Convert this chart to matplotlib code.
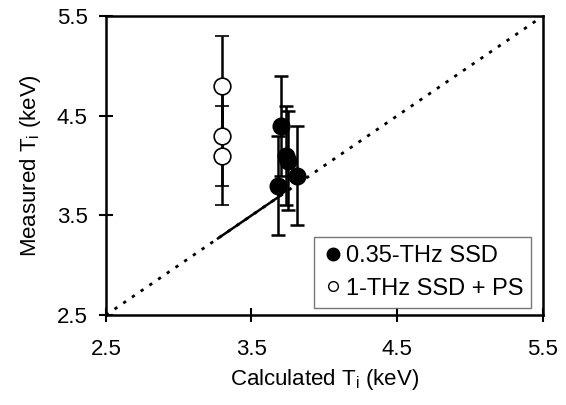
import matplotlib
matplotlib.use("Agg")
import matplotlib.pyplot as plt
from matplotlib.lines import Line2D

plt.rcParams['font.family'] = ['Liberation Sans', 'DejaVu Sans']
plt.rcParams['mathtext.fontset'] = 'custom'
plt.rcParams['mathtext.rm'] = 'Liberation Sans'

# 0.35-THz SSD (filled)
calc_ssd = [3.70, 3.74, 3.75, 3.81, 3.68]
meas_ssd = [4.40, 4.10, 4.05, 3.90, 3.80]
err_ssd = [0.5, 0.5, 0.5, 0.5, 0.5]

# 1-THz SSD + PS (open)
calc_ps = [3.30, 3.30, 3.30]
meas_ps = [4.80, 4.30, 4.10]
err_ps = [0.5, 0.5, 0.5]

# y = x reference and solid segment
diag = [2.5, 5.5]
seg = [3.27, 3.70]

ticks = [2.5, 3.5, 4.5, 5.5]

fig = plt.figure(figsize=(5.66, 4.05), dpi=100)
ax = fig.add_axes([0.187, 0.222, 0.772, 0.738])

ax.plot(diag, diag, ':', color='black', lw=2.0, dashes=(1.2, 2.6))
ax.plot(seg, seg, '-', color='black', lw=1.8)

ax.errorbar(calc_ssd, meas_ssd, yerr=err_ssd, fmt='o', color='black',
            mfc='black', mec='black', ms=12, ecolor='black', elinewidth=1.8,
            capsize=5, capthick=1.8, zorder=3)
ax.errorbar(calc_ps, meas_ps, yerr=err_ps, fmt='o', color='black',
            mfc='white', mec='black', ms=12, mew=1.2, ecolor='black',
            elinewidth=1.8, capsize=5, capthick=1.8, zorder=3)

ax.set_xlim(2.5, 5.5)
ax.set_ylim(2.5, 5.5)
ax.set_xticks(ticks)
ax.set_yticks(ticks)
ax.set_xticklabels(['%.1f' % t for t in ticks])
ax.set_yticklabels(['%.1f' % t for t in ticks])
ax.tick_params(direction='inout', length=10, width=1.5, labelsize=16)
ax.tick_params(axis='x', pad=12)
ax.tick_params(axis='y', pad=8)
for sp in ax.spines.values():
    sp.set_linewidth(1.8)

ax.set_xlabel('Calculated T$_\\mathrm{i}$ (keV)', fontsize=16, labelpad=5)
ax.set_ylabel('Measured T$_\\mathrm{i}$ (keV)', fontsize=16, labelpad=10)

handles = [
    Line2D([], [], ls='none', marker='o', ms=9, mfc='black', mec='black'),
    Line2D([], [], ls='none', marker='o', ms=7, mfc='white', mec='black', mew=1.0),
]
labels = ['0.35-THz SSD', '1-THz SSD + PS']
leg = ax.legend(handles, labels, loc='lower right', bbox_to_anchor=(0.99, 0.0),
                fontsize=17, frameon=True, fancybox=False,
                handletextpad=0.1, handlelength=0.9, borderpad=0.35,
                labelspacing=0.45, borderaxespad=0.3)
leg.get_frame().set_edgecolor('#555555')
leg.get_frame().set_linewidth(1.0)

fig.savefig('out.png', dpi=100)
